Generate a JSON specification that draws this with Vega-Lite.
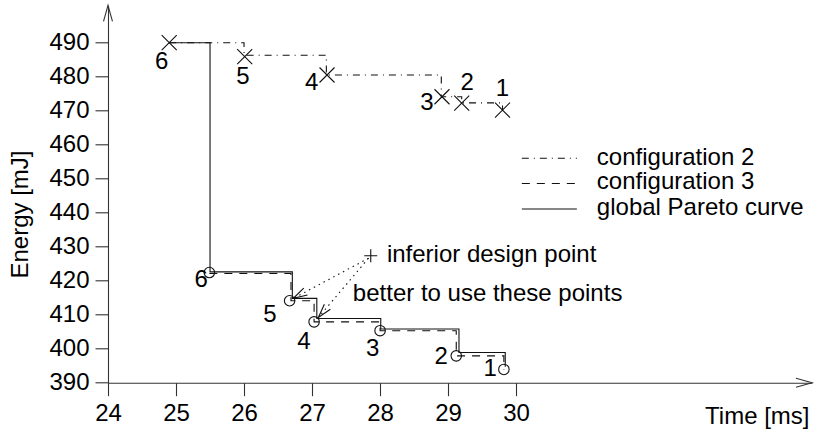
{
  "$schema": "https://vega.github.io/schema/vega-lite/v6.json",
  "width": 704,
  "height": 377.4,
  "autosize": {"type": "none"},
  "padding": {"left": 108, "top": 5.3, "right": 4, "bottom": 46.3},
  "background": "white",
  "config": {
    "view": {"stroke": null},
    "font": "Liberation Sans",
    "axis": {
      "labelFont": "Liberation Sans",
      "labelFontSize": 24,
      "labelColor": "#000",
      "titleFont": "Liberation Sans",
      "titleFontSize": 24,
      "titleFontWeight": "normal",
      "titleColor": "#000",
      "domainColor": "#333",
      "domainWidth": 1.1,
      "tickColor": "#333",
      "tickWidth": 1.1,
      "tickSize": 13,
      "grid": false,
      "labelFlush": false,
      "labelOverlap": false
    }
  },
  "datasets": {
    "lines": [
      {"s": "configuration 2", "t": 24.9, "e": 490},
      {"s": "configuration 2", "t": 26.0, "e": 486.3},
      {"s": "configuration 2", "t": 27.21, "e": 480.5},
      {"s": "configuration 2", "t": 28.9, "e": 474.1},
      {"s": "configuration 2", "t": 29.2, "e": 472.3},
      {"s": "configuration 2", "t": 29.8, "e": 470.2},
      {"s": "configuration 3", "t": 25.49, "e": 422.1},
      {"s": "configuration 3", "t": 26.69, "e": 414.1},
      {"s": "configuration 3", "t": 27.03, "e": 407.9},
      {"s": "configuration 3", "t": 28.0, "e": 405.3},
      {"s": "configuration 3", "t": 29.12, "e": 397.9},
      {"s": "configuration 3", "t": 29.82, "e": 393.9},
      {"s": "global Pareto curve", "t": 24.9, "e": 490},
      {"s": "global Pareto curve", "t": 25.5, "e": 422.6},
      {"s": "global Pareto curve", "t": 26.71, "e": 414.8},
      {"s": "global Pareto curve", "t": 27.07, "e": 408.9},
      {"s": "global Pareto curve", "t": 28.01, "e": 405.8},
      {"s": "global Pareto curve", "t": 29.16, "e": 398.9},
      {"s": "global Pareto curve", "t": 29.84, "e": 394.7}
    ],
    "crosses": [
      {"t": 24.9, "e": 490},
      {"t": 26.01, "e": 485.9},
      {"t": 27.22, "e": 480.5},
      {"t": 28.91, "e": 474.1},
      {"t": 29.2, "e": 472.2},
      {"t": 29.8, "e": 470.2}
    ],
    "circles": [
      {"t": 25.49, "e": 422.4},
      {"t": 26.67, "e": 414.1},
      {"t": 27.03, "e": 407.9},
      {"t": 28.0, "e": 405.3},
      {"t": 29.12, "e": 397.9},
      {"t": 29.82, "e": 393.9}
    ],
    "numbers": [
      {"label": "6", "t": 24.79, "e": 484.2},
      {"label": "5", "t": 25.985, "e": 479.9},
      {"label": "4", "t": 26.995, "e": 478.2},
      {"label": "3", "t": 28.69, "e": 472.4},
      {"label": "2", "t": 29.28, "e": 478.1},
      {"label": "1", "t": 29.80, "e": 476.3},
      {"label": "6", "t": 25.37, "e": 420.2},
      {"label": "5", "t": 26.38, "e": 409.9},
      {"label": "4", "t": 26.88, "e": 402.1},
      {"label": "3", "t": 27.89, "e": 399.8},
      {"label": "2", "t": 28.90, "e": 397.6},
      {"label": "1", "t": 29.62, "e": 393.9}
    ],
    "arrows": [
      {"t": 27.83, "e": 426.6, "t2": 26.725, "e2": 414.8},
      {"t": 27.83, "e": 426.6, "t2": 27.093, "e2": 409.2}
    ],
    "notes": [
      {"label": "inferior design point", "t": 28.10, "e": 427.6},
      {"label": "better to use these points", "t": 27.60, "e": 416.1}
    ],
    "legendLines": [
      {"s": "configuration 2", "t": 30.084, "t2": 30.893, "e": 456.0},
      {"s": "configuration 3", "t": 30.084, "t2": 30.893, "e": 448.6},
      {"s": "global Pareto curve", "t": 30.084, "t2": 30.893, "e": 441.1}
    ],
    "legendText": [
      {"label": "configuration 2", "t": 31.187, "e": 456.2},
      {"label": "configuration 3", "t": 31.187, "e": 448.9},
      {"label": "global Pareto curve", "t": 31.187, "e": 441.5}
    ]
  },
  "encoding": {
    "x": {
      "field": "t",
      "type": "quantitative",
      "scale": {"domain": [24, 34.35], "nice": false, "zero": false},
      "axis": {
        "values": [24, 25, 26, 27, 28, 29, 30],
        "format": "d",
        "labelPadding": 6,
        "title": "Time [ms]",
        "titleX": 701,
        "titleY": 40.6,
        "titleAlign": "right",
        "titleBaseline": "alphabetic",
        "titleAnchor": null
      }
    },
    "y": {
      "field": "e",
      "type": "quantitative",
      "scale": {"domain": [390, 501], "nice": false, "zero": false},
      "axis": {
        "values": [390, 400, 410, 420, 430, 440, 450, 460, 470, 480, 490],
        "format": "d",
        "labelPadding": 6,
        "title": "Energy [mJ]",
        "titleX": -88,
        "titleY": 208.7,
        "titleAngle": 270,
        "titleAlign": "center",
        "titleBaseline": "middle",
        "titleAnchor": null
      }
    }
  },
  "layer": [
    {
      "data": {"name": "lines"},
      "mark": {"type": "line", "interpolate": "step-after", "strokeWidth": 1.1, "color": "#111"},
      "encoding": {
        "detail": {"field": "s"},
        "strokeDash": {
          "field": "s",
          "type": "nominal",
          "scale": {
            "domain": ["configuration 2", "configuration 3", "global Pareto curve"],
            "range": [[7, 5, 1, 5], [8, 7], [1, 0]]
          },
          "legend": null
        }
      }
    },
    {
      "data": {"name": "crosses"},
      "mark": {"type": "point", "shape": "M-1,-1L1,1M-1,1L1,-1", "size": 225, "filled": false, "strokeWidth": 1.1, "color": "#111", "opacity": 1}
    },
    {
      "data": {"name": "circles"},
      "mark": {"type": "point", "shape": "circle", "size": 110, "filled": false, "strokeWidth": 1.1, "color": "#111", "opacity": 1}
    },
    {
      "data": {"name": "numbers"},
      "mark": {"type": "text", "fontSize": 24, "font": "Liberation Sans", "align": "center", "baseline": "middle", "color": "#000"},
      "encoding": {"text": {"field": "label"}}
    },
    {
      "data": {"name": "arrows"},
      "mark": {"type": "rule", "strokeWidth": 1.1, "strokeDash": [1.5, 4], "color": "#111"},
      "encoding": {
        "x2": {"field": "t2"},
        "y2": {"field": "e2"}
      }
    },
    {
      "data": {"values": [{"t": 26.725, "e": 414.8}]},
      "mark": {"type": "point", "shape": "M-1,-0.28L0,0L-1,0.28", "size": 784, "filled": false, "strokeWidth": 1.1, "color": "#111", "opacity": 1, "angle": 151}
    },
    {
      "data": {"values": [{"t": 27.093, "e": 409.2}]},
      "mark": {"type": "point", "shape": "M-1,-0.28L0,0L-1,0.28", "size": 784, "filled": false, "strokeWidth": 1.1, "color": "#111", "opacity": 1, "angle": 130}
    },
    {
      "data": {"values": [{"t": 27.863, "e": 427.35}]},
      "mark": {"type": "point", "shape": "M-1,0L1,0M0,-1L0,1", "size": 169, "filled": false, "strokeWidth": 1.1, "color": "#111", "opacity": 1}
    },
    {
      "data": {"name": "notes"},
      "mark": {"type": "text", "fontSize": 24, "font": "Liberation Sans", "align": "left", "baseline": "middle", "color": "#000"},
      "encoding": {"text": {"field": "label"}}
    },
    {
      "data": {"name": "legendLines"},
      "mark": {"type": "rule", "strokeWidth": 1.1, "color": "#111"},
      "encoding": {
        "x2": {"field": "t2"},
        "strokeDash": {
          "field": "s",
          "type": "nominal",
          "scale": {
            "domain": ["configuration 2", "configuration 3", "global Pareto curve"],
            "range": [[7, 5, 1, 5], [8, 7], [1, 0]]
          },
          "legend": null
        }
      }
    },
    {
      "data": {"name": "legendText"},
      "mark": {"type": "text", "fontSize": 24, "font": "Liberation Sans", "align": "left", "baseline": "middle", "color": "#000"},
      "encoding": {"text": {"field": "label"}}
    },
    {
      "data": {"values": [{"t": 34.35, "e": 390}]},
      "mark": {"type": "point", "shape": "M-1,-0.28L0,0L-1,0.28", "size": 1024, "filled": false, "strokeWidth": 1.1, "color": "#333", "opacity": 1, "angle": 0}
    },
    {
      "data": {"values": [{"t": 24, "e": 501}]},
      "mark": {"type": "point", "shape": "M-1,-0.28L0,0L-1,0.28", "size": 1024, "filled": false, "strokeWidth": 1.1, "color": "#333", "opacity": 1, "angle": 270}
    }
  ]
}
